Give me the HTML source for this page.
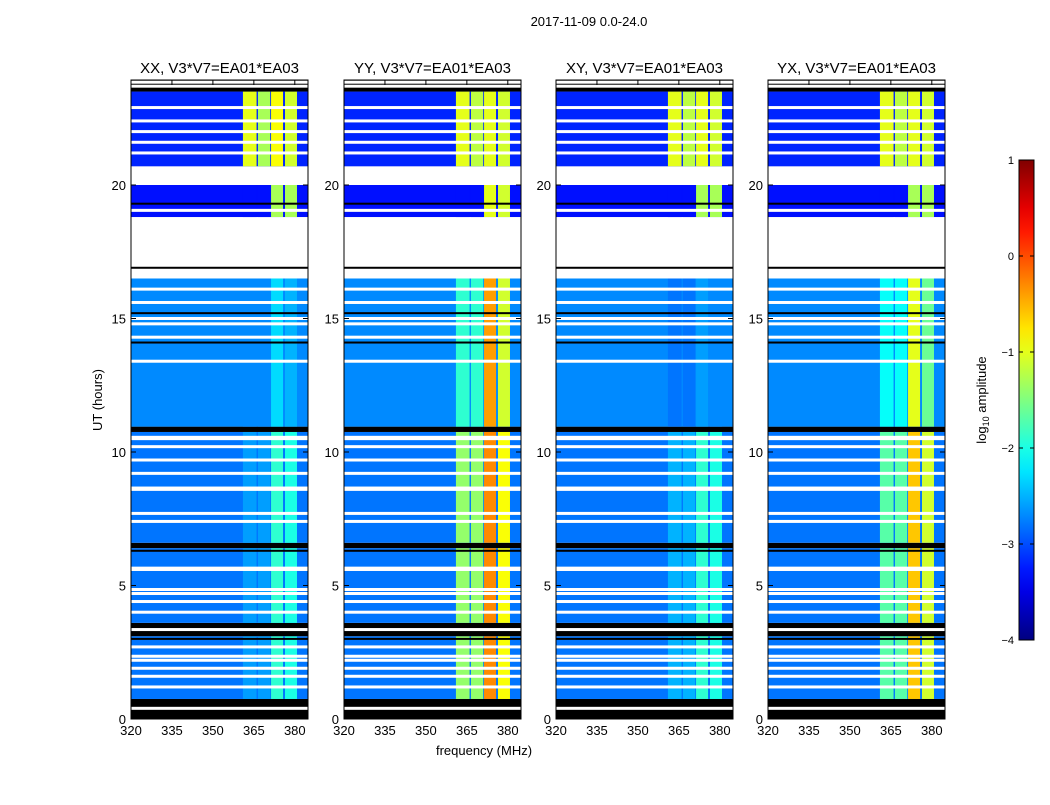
<!DOCTYPE html>
<html><head><meta charset="utf-8">
<style>
body{margin:0;background:#fff;}
svg text{font-family:"Liberation Sans",sans-serif;fill:#000;}
</style></head>
<body>
<svg id="fig" width="1050" height="800" xmlns="http://www.w3.org/2000/svg">
<rect width="1050" height="800" fill="#fff"/>
<text x="589" y="26" font-size="13" text-anchor="middle">2017-11-09 0.0-24.0</text>
<text x="102" y="400" font-size="13" text-anchor="middle" transform="rotate(-90 102 400)">UT (hours)</text>
<text x="484" y="755" font-size="13" text-anchor="middle">frequency (MHz)</text>
<text x="986" y="400" font-size="13" text-anchor="middle" transform="rotate(-90 986 400)">log<tspan font-size="9" dy="3">10</tspan><tspan dy="-3"> amplitude</tspan></text>
<g id="panels"></g>
<g id="cbar"></g>
</svg>
<script>
// ---- data ----
const panelTitles = ["XX, V3*V7=EA01*EA03","YY, V3*V7=EA01*EA03","XY, V3*V7=EA01*EA03","YX, V3*V7=EA01*EA03"];
const xTicks = [320,335,350,365,380];
const yTicks = [0,5,10,15,20];
const cbTicks = [1,0,-1,-2,-3,-4];
// time segments: [startHour, endHour, kind]
const segStart = [0,0.75,3.1,3.6,6.4,6.6,10.75,10.95,16.5,18.8,20.0,20.7,23.5];
const segEnd   = [0.75,3.1,3.6,6.4,6.6,10.75,10.95,16.5,18.8,20.0,20.7,23.5,24];
const segKind  = ["K","L","K","L","K","L","K","M","W","U2","W","U","K"];
const whiteRows = [0.4,1.2,1.6,1.9,2.2,2.35,2.7,3.35,4.0,4.4,4.7,4.85,5.6,5.65,7.4,7.7,8.6,8.65,9.2,9.7,10.2,10.5,10.55,13.4,14.3,14.8,15.0,15.6,16.1,19.05,21.2,21.6,22.0,22.4,22.9,23.7,23.85];
const blackRows = [3.0,6.3,14.1,15.2,16.9,19.3,23.6];
const winLo = [361,366.5,371.3,376.4];
const winHi = [366,371,375.7,380.8];
const bgL = -2.8, bgM = -2.7, bgU = -3.2, bgU2 = -3.3;
const winL  = [[-2.6,-2.6,-1.9,-2.0],[-1.4,-1.4,-0.3,-0.9],[-2.5,-2.5,-1.9,-2.0],[-1.7,-1.7,-0.6,-1.1]];
const winM  = [[-2.7,-2.7,-2.3,-2.5],[-1.9,-1.9,-0.4,-1.1],[-2.8,-2.8,-2.6,-2.7],[-2.1,-2.1,-1.0,-1.6]];
const winU  = [[-1.0,-1.3,-0.9,-1.1],[-1.0,-1.2,-1.0,-1.1],[-1.0,-1.2,-1.0,-1.1],[-1.0,-1.2,-1.0,-1.1]];
const winU2 = [[-3.3,-3.3,-1.3,-1.3],[-3.3,-3.3,-1.0,-1.1],[-3.3,-3.3,-1.3,-1.3],[-3.3,-3.3,-1.3,-1.3]];

// ---- helpers ----
const NS="http://www.w3.org/2000/svg";
const panelX=[131,344,556,768], PW=177, TOP=80, BOT=719;
const HPX=26.7, MPX=2.73;
function yOf(h){return BOT-h*HPX;}
function jet(v){const t=Math.max(0,Math.min(1,(v+4)/5));const c=x=>Math.round(255*Math.max(0,Math.min(1,1.5-Math.abs(4*t-x))));return `rgb(${c(3)},${c(2)},${c(1)})`;}
function mk(tag,attrs,parent){const e=document.createElementNS(NS,tag);for(const k in attrs)e.setAttribute(k,attrs[k]);parent.appendChild(e);return e;}
const root=document.getElementById('panels');
panelX.forEach((x0,p)=>{
  const g=mk('g',{},root);
  
  
  const cp=mk('clipPath',{id:'cp'+p},g);mk('rect',{x:x0,y:TOP,width:PW,height:BOT-TOP},cp);
  const d=mk('g',{'clip-path':`url(#cp${p})`},g);
  const xOf=f=>x0+(f-320)*MPX;
  segStart.forEach((s,i)=>{
    const k=segKind[i], y1=yOf(segEnd[i]), y2=yOf(s);
    let fill = k==='K'?'#000':k==='W'?'#fff':null;
    if(!fill){
      const bg={L:bgL,M:bgM,U:bgU,U2:bgU2}[k]; fill=jet(bg);
      const r=mk('rect',{x:x0,y:y1,width:PW,height:y2-y1,fill},d);
      
      const wl={L:winL,M:winM,U:winU,U2:winU2}[k][p];
      winLo.forEach((lo,w)=>{
        const c=mk('rect',{x:xOf(lo),y:y1,width:(winHi[w]-lo)*MPX,height:y2-y1,fill:jet(wl[w])},d);
        
      });
    } else {
      const r=mk('rect',{x:x0,y:y1,width:PW,height:y2-y1,fill},d);
      
    }
  });
  whiteRows.forEach(h=>{const r=mk('rect',{x:x0,y:yOf(h)-1.5,width:PW,height:3,fill:'#fff'},d);});
  blackRows.forEach(h=>{const r=mk('rect',{x:x0,y:yOf(h)-1,width:PW,height:2,fill:'#000'},d);});
  mk('rect',{x:x0,y:TOP,width:PW,height:BOT-TOP,fill:'none',stroke:'#000','stroke-width':1},g);
  const t=mk('text',{x:x0+PW/2,y:73,'font-size':15,'text-anchor':'middle'},g);t.textContent=panelTitles[p];
  
  xTicks.forEach(v=>{const x=xOf(v);mk('line',{x1:x,x2:x,y1:BOT,y2:BOT-5,stroke:'#000'},g);mk('line',{x1:x,x2:x,y1:TOP,y2:TOP+5,stroke:'#000'},g);
    const l=mk('text',{x:x,y:BOT+16,'font-size':13,'text-anchor':'middle'},g);l.textContent=v;
    });
  yTicks.forEach(v=>{const y=yOf(v);mk('line',{x1:x0,x2:x0+5,y1:y,y2:y,stroke:'#000'},g);mk('line',{x1:x0+PW,x2:x0+PW-5,y1:y,y2:y,stroke:'#000'},g);
    const l=mk('text',{x:x0-5,y:y+5,'font-size':13,'text-anchor':'end'},g);l.textContent=v;
    });
});
// colorbar
const cb=document.getElementById('cbar');


const CX=1019,CW=15,CT=160,CB=640;
const defs=mk('defs',{},cb);const lg=mk('linearGradient',{id:'jetg',x1:0,y1:1,x2:0,y2:0},defs);
for(let i=0;i<=20;i++){mk('stop',{offset:i/20,'stop-color':jet(-4+5*i/20)},lg);}
mk('rect',{x:CX,y:CT,width:CW,height:CB-CT,fill:'url(#jetg)',stroke:'#000'},cb);
cbTicks.forEach(v=>{const y=CB-(v+4)/5*(CB-CT);mk('line',{x1:CX,x2:CX+4,y1:y,y2:y,stroke:'#000'},cb);mk('line',{x1:CX+CW,x2:CX+CW-4,y1:y,y2:y,stroke:'#000'},cb);
  const l=mk('text',{x:CX-5,y:y+4,'font-size':11,'text-anchor':'end'},cb);l.textContent=v<0?'\u2212'+(-v):v;
  });
</script>
</body></html>
